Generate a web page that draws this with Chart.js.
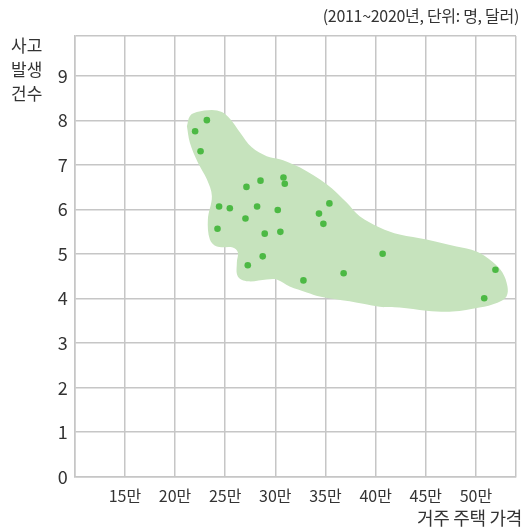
<!DOCTYPE html>
<html>
<head>
<meta charset="utf-8">
<script src="https://cdn.jsdelivr.net/npm/chart.js@4"></script>
<style>
  html, body { margin: 0; padding: 0; background: #fff; }
  #wrap { position: relative; width: 526px; height: 531px; font-family: "Noto Sans CJK KR", "Noto Sans", sans-serif; color: #333; }
  canvas { position: absolute; left: 0; top: 0; }
  .lbl { position: absolute; white-space: nowrap; }
  #title { right: 7px; top: 3px; font-size: 16px; letter-spacing: -0.3px; }
  #ytitle { left: 11px; top: 33px; font-size: 17px; line-height: 24px; }
  #xtitle { right: 4px; top: 504px; font-size: 18px; letter-spacing: -0.3px; }
</style>
</head>
<body>
<div id="wrap">
  <canvas id="c" width="526" height="531"></canvas>
  <div class="lbl" id="title">(2011~2020년, 단위: 명, 달러)</div>
  <div class="lbl" id="ytitle">사고<br>발생<br>건수</div>
  <div class="lbl" id="xtitle">거주 주택 가격</div>
</div>
<script>
// housing price (만 달러) and accident counts (명)
const priceValues = [22.0, 23.17, 22.54, 24.39, 25.46, 24.23, 27.12, 28.52, 28.18, 27.02, 28.94, 28.74, 27.25,
                     30.81, 30.94, 30.24, 30.5, 35.39, 34.35, 34.79, 32.8, 36.81, 40.7, 51.95, 50.83];
const accidentValues = [7.76, 8.01, 7.31, 6.07, 6.03, 5.57, 6.51, 6.65, 6.07, 5.80, 5.46, 4.95, 4.75,
                        6.72, 6.58, 5.99, 5.50, 6.14, 5.91, 5.68, 4.41, 4.57, 5.01, 4.65, 4.01];
// cluster outline (price, count)
const clusterX = [21.18, 21.47, 22.17, 23.67, 24.67, 25.47, 26.46, 27.65, 29.14, 30.44, 31.73, 32.43, 35.12, 37.11,
                  38.41, 40.40, 42.39, 45.08, 48.07, 50.06, 51.65, 52.65, 53.15, 53.05, 52.15, 50.36, 47.67, 45.08,
                  42.39, 40.40, 37.41, 34.42, 33.13, 31.43, 30.14, 29.14, 27.25, 26.26, 26.16, 26.26, 25.76, 24.17,
                  23.47, 23.27, 23.67, 23.17, 22.27, 21.47, 21.18];
const clusterY = [7.87, 8.10, 8.19, 8.24, 8.19, 8.04, 7.74, 7.40, 7.20, 7.13, 7.02, 6.95, 6.57, 6.16,
                  5.85, 5.60, 5.44, 5.33, 5.17, 5.06, 4.83, 4.59, 4.27, 4.05, 3.91, 3.80, 3.71, 3.73,
                  3.80, 3.82, 3.94, 4.05, 4.14, 4.27, 4.43, 4.43, 4.39, 4.50, 4.81, 5.04, 5.15, 5.17,
                  5.33, 5.78, 6.30, 6.68, 7.06, 7.51, 7.87];
const xTicks = [10, 15, 20, 25, 30, 35, 40, 45, 50, 54];
const xTickLabels = ['', '15만', '20만', '25만', '30만', '35만', '40만', '45만', '50만', ''];
const yTicks = [0, 1, 2, 3, 4, 5, 6, 7, 8, 9, 9.9];
const yTickLabels = ['0', '1', '2', '3', '4', '5', '6', '7', '8', '9', ''];

const pts = priceValues.map((v, i) => ({ x: v, y: accidentValues[i] }));
const cluster = clusterX.map((v, i) => ({ x: v, y: clusterY[i] }));

const gridColor = '#c6c6c6';
const fontFam = '"Noto Sans CJK KR", "Noto Sans", sans-serif';

new Chart(document.getElementById('c'), {
  type: 'scatter',
  data: {
    datasets: [
      { data: pts, backgroundColor: '#4cb944', borderWidth: 0, pointRadius: 3.3, order: 0 },
      { data: cluster, showLine: true, fill: 'shape', tension: 0.35, backgroundColor: '#c6e3bd',
        borderColor: 'rgba(0,0,0,0)', borderWidth: 0, pointRadius: 0, order: 1 }
    ]
  },
  options: {
    responsive: false,
    animation: false,
    events: [],
    layout: { padding: { top: 36, right: 9.3, left: 0, bottom: 0 } },
    plugins: { legend: { display: false }, tooltip: { enabled: false } },
    scales: {
      x: {
        type: 'linear', min: 10, max: 54,
        afterBuildTicks: s => { s.ticks = xTicks.map(v => ({ value: v })); },
        afterFit: s => { s.height = 54.3; },
        grid: { color: gridColor, lineWidth: 1.5, drawTicks: false },
        border: { color: gridColor, width: 1.5 },
        ticks: { padding: 10, color: '#333', font: { family: fontFam, size: 16 },
                 callback: (v, i) => xTickLabels[i] }
      },
      y: {
        type: 'linear', min: 0, max: 9.9,
        afterBuildTicks: s => { s.ticks = yTicks.map(v => ({ value: v })); },
        afterFit: s => { s.width = 74.8; },
        grid: { color: gridColor, lineWidth: 1.5, drawTicks: false },
        border: { color: gridColor, width: 1.5 },
        ticks: { padding: 7, color: '#333', font: { family: fontFam, size: 18 },
                 callback: (v, i) => yTickLabels[i] }
      }
    }
  }
});
</script>
</body>
</html>
